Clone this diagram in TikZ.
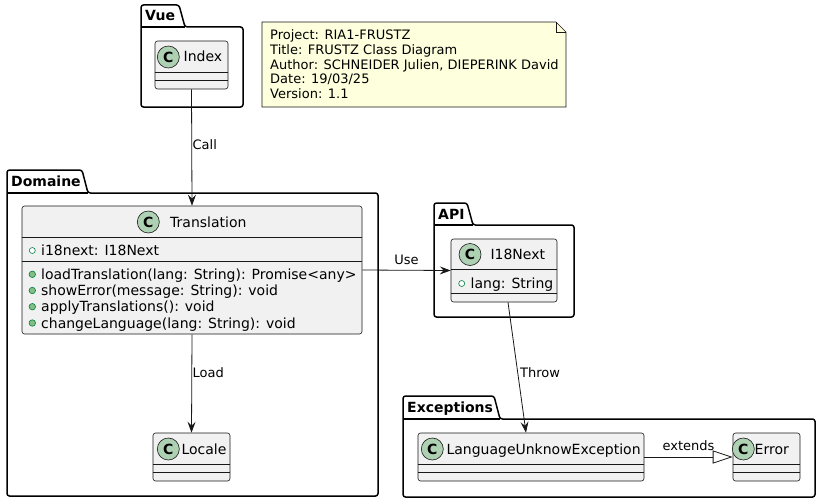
\documentclass[tikz,border=0pt]{standalone}
\usepackage{fontspec}
\setmainfont{DejaVu Sans}
\usetikzlibrary{arrows.meta, positioning}

\definecolor{clsfill}{HTML}{F1F1F1}
\definecolor{clsborder}{HTML}{181818}
\definecolor{circfill}{HTML}{ADD1B2}
\definecolor{notefill}{HTML}{FEFFDD}
\definecolor{visgreen}{HTML}{038048}
\definecolor{visfill}{HTML}{84BE84}

\begin{document}
\begin{tikzpicture}[
            x=1pt, y=-1pt,
            pkg/.style={draw, line width=1.5pt, rounded corners=2.5pt},
            pkglabel/.style={font=\fontsize{14}{16}\selectfont\bfseries, anchor=base west, inner sep=0},
            cls/.style={draw=clsborder, fill=clsfill, line width=0.6pt, rounded corners=2.5pt, inner sep=0},
            sep/.style={draw=clsborder, line width=0.6pt},
            badge/.style={circle, draw=clsborder, fill=circfill, line width=0.6pt, minimum size=22pt, inner sep=0, font=\fontsize{14}{14}\selectfont\bfseries},
            cname/.style={font=\fontsize{14}{16}\selectfont, anchor=base west, inner sep=0},
            member/.style={font=\fontsize{14}{16}\selectfont, anchor=base west, inner sep=0},
            field/.style={circle, draw=visgreen, fill=white, line width=0.6pt, minimum size=6pt, inner sep=0},
            method/.style={circle, draw=visgreen, fill=visfill, line width=0.6pt, minimum size=6.5pt, inner sep=0},
            rel/.style={draw=clsborder, line width=0.8pt, -{Stealth[length=11pt, width=8pt, inset=4pt]}},
            lbl/.style={font=\fontsize{13}{15}\selectfont, inner sep=0.5pt}
        ]

        \useasboundingbox (0,0) rectangle (821,503);

        % Packages
        \draw[pkg] (141,107) -- (141,5) -- (179,5) -- (185,27) -- (243,27) -- (243,107) -- cycle;
        \draw[pkg] (141,27) -- (185,27);
        \node[pkglabel] (vueTab) at (145,21) {Vue};

        \draw[pkg] (7,496) -- (7,170) -- (82,170) -- (88,193) -- (378,193) -- (378,496) -- cycle;
        \draw[pkg] (7,193) -- (88,193);
        \node[pkglabel] (domaineTab) at (11,186) {Domaine};

        \draw[pkg] (434,317) -- (434,203) -- (467,203) -- (473,225) -- (574,225) -- (574,317) -- cycle;
        \draw[pkg] (434,225) -- (473,225);
        \node[pkglabel] (apiTab) at (438,219) {API};

        \draw[pkg] (403,497) -- (403,396) -- (494,396) -- (500,419) -- (815,419) -- (815,497) -- cycle;
        \draw[pkg] (403,419) -- (500,419);
        \node[pkglabel] (exceptionsTab) at (407,412) {Exceptions};

        % Note
        \draw[draw=clsborder, fill=notefill, line width=0.6pt] (262,22) -- (556,22) -- (566,32) -- (566,107) -- (262,107) -- cycle;
        \draw[draw=clsborder, line width=0.6pt] (556,22) |- (566,32);
        \node[anchor=north west, align=left, inner sep=0, font=\fontsize{13}{14.8}\selectfont] (note) at (270,29.5)
            {Project: RIA1-FRUSTZ\\Title: FRUSTZ Class Diagram\\Author: SCHNEIDER Julien, DIEPERINK David\\Date: 19/03/25\\Version: 1.1};

        % Class Index
        \node[cls, minimum width=73pt, minimum height=48pt] (index) at (191.5,65) {};
        \draw[sep] ([yshift=-32pt]index.north west) -- ([yshift=-32pt]index.north east);
        \draw[sep] ([yshift=-40pt]index.north west) -- ([yshift=-40pt]index.north east);
        \node[badge] (indexC) at (168.3,57) {C};
        \node[cname] (indexName) at (183.5,62) {Index};

        % Class Translation
        \node[cls, minimum width=340pt, minimum height=128pt] (translation) at (192,270) {};
        \draw[sep] ([yshift=-32pt]translation.north west) -- ([yshift=-32pt]translation.north east);
        \draw[sep] ([yshift=-56pt]translation.north west) -- ([yshift=-56pt]translation.north east);
        \node[badge] (translationC) at (148.3,222) {C};
        \node[cname] (translationName) at (170,227) {Translation};
        \node[field] (attrI18next) at (32.3,250.5) {};
        \node[member] (attrI18nextText) at (41,255.5) {i18next: I18Next};
        \node[method] (mLoad) at (32.3,274.3) {};
        \node[member] (mLoadText) at (41,279.3) {loadTranslation(lang: String): Promise<any>};
        \node[method] (mShow) at (32.3,290.5) {};
        \node[member] (mShowText) at (41,295.5) {showError(message: String): void};
        \node[method] (mApply) at (32.3,306.7) {};
        \node[member] (mApplyText) at (41,311.7) {applyTranslations(): void};
        \node[method] (mChange) at (32.3,323) {};
        \node[member] (mChangeText) at (41,328) {changeLanguage(lang: String): void};

        % Class Locale
        \node[cls, minimum width=77pt, minimum height=48pt] (locale) at (191.5,457) {};
        \draw[sep] ([yshift=-32pt]locale.north west) -- ([yshift=-32pt]locale.north east);
        \draw[sep] ([yshift=-40pt]locale.north west) -- ([yshift=-40pt]locale.north east);
        \node[badge] (localeC) at (168.3,449) {C};
        \node[cname] (localeName) at (181.3,454) {Locale};

        % Class I18Next
        \node[cls, minimum width=106pt, minimum height=63pt] (i18next) at (504,270.5) {};
        \draw[sep] ([yshift=-31pt]i18next.north west) -- ([yshift=-31pt]i18next.north east);
        \draw[sep] ([yshift=-55pt]i18next.north west) -- ([yshift=-55pt]i18next.north east);
        \node[badge] (i18nextC) at (470,254.5) {C};
        \node[cname] (i18nextName) at (490.3,259.5) {I18Next};
        \node[field] (attrLang) at (461.7,283.5) {};
        \node[member] (attrLangText) at (470.5,288.5) {lang: String};

        % Class LanguageUnknowException
        \node[cls, minimum width=226pt, minimum height=48pt] (lue) at (531,457) {};
        \draw[sep] ([yshift=-32pt]lue.north west) -- ([yshift=-32pt]lue.north east);
        \draw[sep] ([yshift=-40pt]lue.north west) -- ([yshift=-40pt]lue.north east);
        \node[badge] (lueC) at (432.3,449) {C};
        \node[cname] (lueName) at (446.3,454) {LanguageUnknowException};

        % Class Error
        \node[cls, minimum width=67pt, minimum height=48pt] (error) at (766.5,457) {};
        \draw[sep] ([yshift=-32pt]error.north west) -- ([yshift=-32pt]error.north east);
        \draw[sep] ([yshift=-40pt]error.north west) -- ([yshift=-40pt]error.north east);
        \node[badge] (errorC) at (743.3,449) {C};
        \node[cname] (errorName) at (754.5,454) {Error};

        % Relations
        \draw[rel] (index.south) -- (translation.north) node[lbl, right, pos=0.475] {Call};
        \draw[rel] (translation.south) -- (locale.north) node[lbl, right, pos=0.39] {Load};
        \draw[rel] (translation.east) -- (i18next.west) node[lbl, above=5pt, midway] {Use};
        \draw[rel] ([xshift=4pt]i18next.south) -- ([xshift=-5pt]lue.north) node[lbl, right=1.5pt, pos=0.54] {Throw};
        \draw[draw=clsborder, line width=0.8pt, -{Triangle[length=20pt, width=13pt, fill=white]}] (lue.east) -- (error.west)
            node[lbl, above=5pt, midway] {extends};
\end{tikzpicture}
\end{document}
